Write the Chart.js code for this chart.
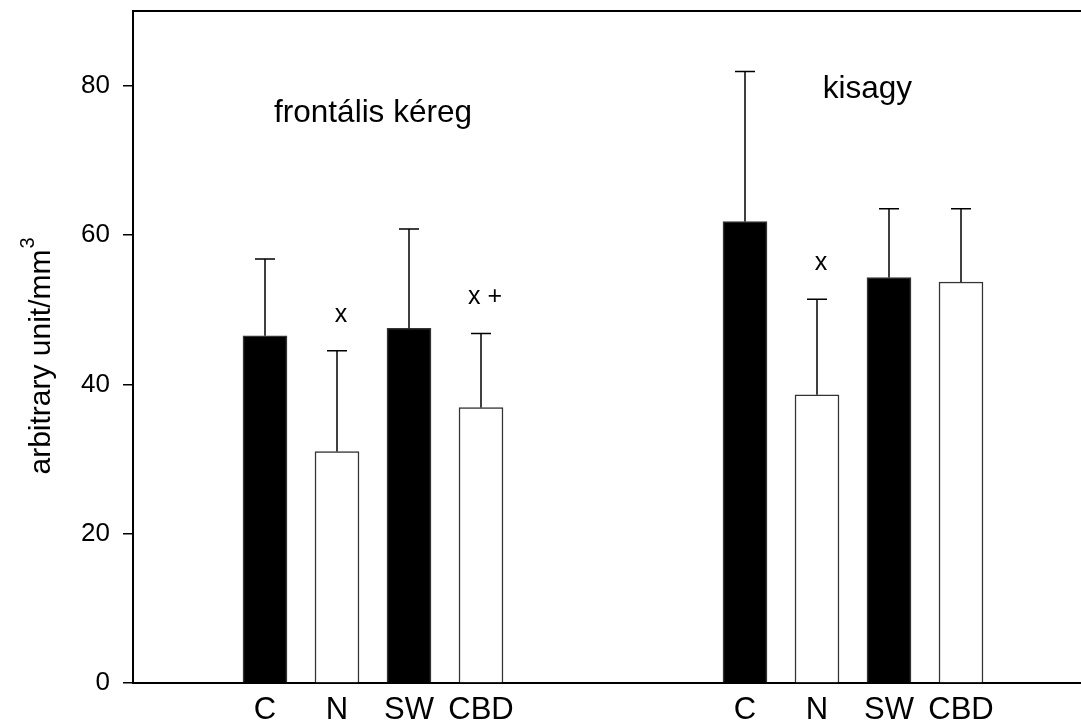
<!DOCTYPE html>
<html>
<head>
<meta charset="utf-8">
<script src="https://cdn.jsdelivr.net/npm/chart.js@4.4.1/dist/chart.umd.min.js"></script>
<style>
  html, body { margin: 0; padding: 0; background: #ffffff; }
  canvas { display: block; }
</style>
</head>
<body>
<canvas id="chart" width="1081" height="724"></canvas>
<script>
// Treatments within each brain region, and the region names
const treatments = ['C', 'N', 'SW', 'CBD'];
const regions = ['frontális kéreg', 'kisagy'];

// Mean values and standard deviations (arbitrary unit/mm³)
const frontalMean = [46.5, 31.0, 47.5, 36.9];
const frontalSD = [10.3, 13.5, 13.3, 9.9];
const kisagyMean = [61.8, 38.6, 54.3, 53.7];
const kisagySD = [20.1, 12.8, 9.2, 9.8];

// Significance marks above the error bars
const frontalMarks = ['', 'x', '', 'x +'];
const kisagyMarks = ['', 'x', '', ''];

// Value axis
const yTickValues = [0, 20, 40, 60, 80];
const yTitleText = 'arbitrary unit/mm';
const yTitleSup = '3';

const FONT = "'Liberation Sans', Arial, Helvetica, sans-serif";
const TITLE_SIZE = 30;
const TITLE_PAD = 24;

const means = [frontalMean, kisagyMean];
const sds = [frontalSD, kisagySD];
const marks = [frontalMarks, kisagyMarks];

// Bars sit on a linear x axis: 3 units between bars, 20 units between groups
const BAR_STEP = 3;
const GROUP_STEP = 20;
const xPos = (g, i) => g * GROUP_STEP + i * BAR_STEP;
const X_MIN = -5.5;
const X_MAX = 34;

// Region captions, anchored in data coordinates (centre x, baseline y)
const regionCaptionAt = [
  { x: 4.5, y: 75.1 },
  { x: 25.1, y: 78.35 }
];

const points = [];
const fills = [];
const errs = [];
const notes = [];
const tickLabels = new Map();
regions.forEach((r, g) => {
  treatments.forEach((t, i) => {
    const x = xPos(g, i);
    points.push({ x: x, y: means[g][i] });
    errs.push(sds[g][i]);
    notes.push(marks[g][i]);
    fills.push(i % 2 === 0 ? '#000000' : '#ffffff');
    tickLabels.set(x, t);
  });
});

// Upward error bars with caps, significance marks, region captions
// and the superscript of the unit in the y-axis title
const errorBars = {
  id: 'errorBars',
  afterDatasetsDraw(chart) {
    const { ctx, scales } = chart;
    const xs = scales.x, ys = scales.y;
    ctx.save();
    ctx.strokeStyle = '#000000';
    ctx.fillStyle = '#000000';
    ctx.lineWidth = 1.5;
    points.forEach((p, k) => {
      const px = xs.getPixelForValue(p.x);
      const y0 = ys.getPixelForValue(p.y);
      const y1 = ys.getPixelForValue(p.y + errs[k]);
      ctx.beginPath();
      ctx.moveTo(px, y0);
      ctx.lineTo(px, y1);
      ctx.moveTo(px - 10, y1);
      ctx.lineTo(px + 10, y1);
      ctx.stroke();
      if (notes[k]) {
        ctx.font = '25px ' + FONT;
        ctx.textAlign = 'center';
        ctx.textBaseline = 'middle';
        ctx.fillText(notes[k], px + 4, y1 - 36);
      }
    });
    ctx.font = '31.5px ' + FONT;
    ctx.textAlign = 'center';
    ctx.textBaseline = 'alphabetic';
    regions.forEach((r, g) => {
      const a = regionCaptionAt[g];
      ctx.fillText(r, xs.getPixelForValue(a.x), ys.getPixelForValue(a.y));
    });

    // superscript after the rotated axis title
    ctx.font = TITLE_SIZE + 'px ' + FONT;
    const fullW = ctx.measureText(yTitleText + '\u2003').width;
    const mainW = ctx.measureText(yTitleText).width;
    const titleX = ys.left + TITLE_PAD + TITLE_SIZE * 1.2 / 2;
    const titleY = (chart.chartArea.top + chart.chartArea.bottom) / 2;
    ctx.translate(titleX, titleY + fullW / 2);
    ctx.rotate(-Math.PI / 2);
    ctx.font = '20px ' + FONT;
    ctx.textAlign = 'left';
    ctx.textBaseline = 'middle';
    ctx.fillText(yTitleSup, mainW + 1, -14);
    ctx.restore();
  }
};

new Chart(document.getElementById('chart'), {
  type: 'bar',
  data: {
    datasets: [{
      data: points,
      backgroundColor: fills,
      borderColor: '#333333',
      borderWidth: 1.5,
      barThickness: 44
    }]
  },
  options: {
    responsive: false,
    animation: false,
    devicePixelRatio: 1,
    layout: { padding: 0 },
    plugins: {
      legend: { display: false },
      tooltip: { enabled: false }
    },
    scales: {
      x: {
        type: 'linear',
        position: 'bottom',
        offset: false,
        min: X_MIN,
        max: X_MAX,
        afterBuildTicks: s => { s.ticks = [...tickLabels.keys()].map(v => ({ value: v })); },
        afterFit: s => { s.height = 41; s.paddingLeft = 0; s.paddingRight = 0; },
        grid: { display: true, drawOnChartArea: false, drawTicks: false, color: '#000000' },
        border: { display: true, color: '#000000', width: 2 },
        ticks: {
          autoSkip: false,
          maxRotation: 0,
          padding: 9,
          color: '#000000',
          font: { family: FONT, size: 31 },
          callback: v => tickLabels.has(v) ? tickLabels.get(v) : ''
        }
      },
      xTop: {
        type: 'linear',
        axis: 'x',
        position: 'top',
        offset: false,
        min: X_MIN,
        max: X_MAX,
        afterFit: s => { s.height = 11; s.paddingLeft = 0; s.paddingRight = 0; },
        ticks: { display: false },
        grid: { display: false, drawTicks: false },
        border: { display: true, color: '#000000', width: 2 }
      },
      y: {
        min: 0,
        max: 90,
        afterBuildTicks: s => { s.ticks = yTickValues.map(v => ({ value: v })); },
        afterFit: s => { s.width = 133; s.paddingTop = 0; s.paddingBottom = 0; },
        grid: { drawOnChartArea: false, drawTicks: true, tickLength: 10, color: '#000000', lineWidth: 1.5 },
        border: { display: true, color: '#000000', width: 2 },
        ticks: { padding: 13, color: '#000000', font: { family: FONT, size: 26 } },
        title: {
          display: true,
          text: yTitleText + '\u2003',
          color: '#000000',
          font: { family: FONT, size: TITLE_SIZE },
          padding: { top: TITLE_PAD, bottom: 0 }
        }
      }
    }
  },
  plugins: [errorBars]
});
</script>
</body>
</html>
